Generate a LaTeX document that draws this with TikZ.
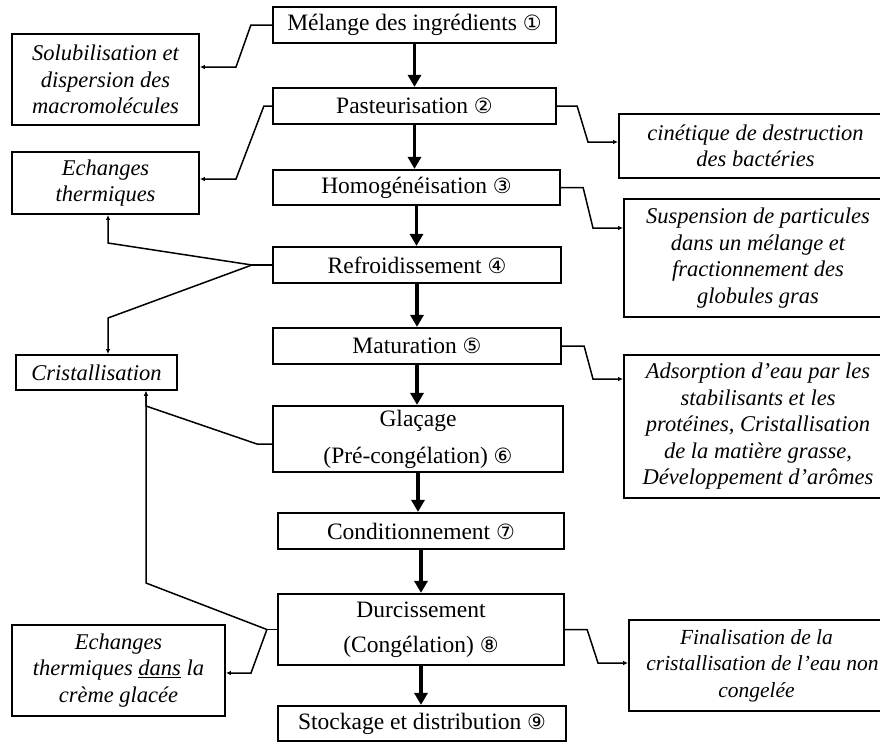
\documentclass[tikz,border=0pt]{standalone}
\usepackage{fontspec}
\setmainfont{Liberation Serif}
\newfontfamily\circfont{DejaVu Sans}
\usetikzlibrary{arrows.meta}
\newcommand\cn[1]{{\circfont\fontsize{21}{21}\selectfont #1}}
\newcommand\padr{\hspace*{12pt}}
\begin{document}
\begin{tikzpicture}[x=1pt,y=-1pt,
  mainbox/.style={draw, line width=2.2pt, inner sep=0pt, align=center,
    font=\fontsize{23.5}{26}\selectfont},
  sidebox/.style={draw, line width=1.8pt, inner sep=0pt, align=center,
    font=\fontsize{22.5}{26.5}\selectfont\itshape},
  thinarrow/.style={line width=1.5pt, -{Latex[length=5pt,width=4.5pt]}},
  thinline/.style={line width=1.5pt},
  thickarrow/.style={line width=3.2pt, -{Triangle[length=12pt,width=13pt]}}]
\useasboundingbox[fill=white] (0,0) rectangle (880,742);
% main column
\node[mainbox, minimum width=283, minimum height=36] (m1) at (414.5,25) {Mélange des ingrédients \cn{①}};
\node[mainbox, minimum width=283, minimum height=36] (m2) at (414.5,106) {Pasteurisation \cn{②}};
\node[mainbox, minimum width=287, minimum height=35] (m3) at (416.5,187.5) {Homogénéisation \cn{③}};
\node[mainbox, minimum width=288, minimum height=36] (m4) at (417,265) {Refroidissement \cn{④}};
\node[mainbox, minimum width=288, minimum height=36] (m5) at (417,346) {Maturation \cn{⑤}};
\node[mainbox, minimum width=290, minimum height=66, font=\fontsize{23.5}{37}\selectfont] (m6) at (418,439) {Glaçage\\(Pré-congélation) \cn{⑥}};
\node[mainbox, minimum width=286, minimum height=36] (m7) at (421,531) {Conditionnement \cn{⑦}};
\node[mainbox, minimum width=286, minimum height=71, font=\fontsize{23.5}{35}\selectfont] (m8) at (421,629.5) {Durcissement\\(Congélation) \cn{⑧}};
\node[mainbox, minimum width=288, minimum height=35] (m9) at (422,723.5) {Stockage et distribution \cn{⑨}};
% left boxes
\node[sidebox, minimum width=187, minimum height=91] (A) at (105.5,79.5) {Solubilisation et\\dispersion des\\macromolécules};
\node[sidebox, minimum width=187, minimum height=62] (B) at (105.5,183) {Echanges\\thermiques};
\node[sidebox, minimum width=161, minimum height=35] (C) at (96.5,372.5) {Cristallisation};
\node[sidebox, minimum width=213, minimum height=91] (D) at (118.5,670.5) {Echanges\\thermiques \underline{dans} la\\crème glacée};
% right boxes
\node[sidebox, minimum width=273, minimum height=64] (E) at (755.5,146) {cinétique de destruction\\des bactéries};
\node[sidebox, minimum width=268, minimum height=118] (F) at (758,258) {Suspension de particules\\dans un mélange et\\fractionnement des\\globules gras};
\node[sidebox, minimum width=268, minimum height=143] (G) at (758,426.5) {Adsorption d’eau par les\\stabilisants et les\\protéines, Cristallisation\\de la matière grasse,\\Développement d’arômes};
\node[sidebox, minimum width=267, minimum height=91, font=\fontsize{21.5}{26.5}\selectfont\itshape] (H) at (762.5,665.5) {Finalisation de la\padr\\cristallisation de l’eau non\padr\\congelée\padr};
% main arrows
\draw[thickarrow] (m1.south) -- (m1.south |- m2.north);
\draw[thickarrow] (m2.south) -- (m2.south |- m3.north);
\draw[thickarrow] (m3.south) -- (m3.south |- m4.north);
\draw[thickarrow] (m4.south) -- (m4.south |- m5.north);
\draw[thickarrow] (m5.south) -- (m5.south |- m6.north);
\draw[thickarrow] (m6.south) -- (m6.south |- m7.north);
\draw[thickarrow] (m7.south) -- (m7.south |- m8.north);
\draw[thickarrow] (m8.south) -- (m8.south |- m9.north);
% bend points
\coordinate (a1) at (236,67);
\coordinate (b1) at (236,179);
\coordinate (e1) at (588,142);
\coordinate (f1) at (593,228);
\coordinate (r1) at (108,243);
\coordinate (r2) at (108,318);
\coordinate (g1) at (593,379);
\coordinate (c1) at (146,406);
\coordinate (d1) at (146,583);
\coordinate (d2) at (251,673);
\coordinate (h1) at (598,663);
% side connectors
\draw[thinarrow] (m1.west) -- ++(-21,0) -- (a1) -- (a1 -| A.east);
\draw[thinarrow] (m2.west) -- ++(-8,0) -- (b1) -- (b1 -| B.east);
\draw[thinarrow] (m2.east) -- ++(20,0) -- (e1) -- (e1 -| E.west);
\draw[thinarrow] (m3.east) -- ++(22,0) -- (f1) -- (f1 -| F.west);
\draw[thinline] (m4.west) -- ++(-20,0) coordinate (r0);
\draw[thinarrow] (r0) -- (r1) -- (r1 |- B.south);
\draw[thinarrow] (r0) -- (r2) -- (r2 |- C.north);
\draw[thinarrow] (m5.east) -- ++(22,0) -- (g1) -- (g1 -| G.west);
\draw[thinarrow] ([yshift=-5pt]m6.west) -- ++(-15,0) -- (c1) -- (c1 |- C.south);
\draw[thinline] (m8.west) -- ++(-10,0) coordinate (d0);
\draw[thinarrow] (d0) -- (d1) -- (d1 |- C.south);
\draw[thinarrow] (d0) -- (d2) -- (d2 -| D.east);
\draw[thinarrow] (m8.east) -- ++(22,0) -- (h1) -- (h1 -| H.west);
\end{tikzpicture}
\end{document}
